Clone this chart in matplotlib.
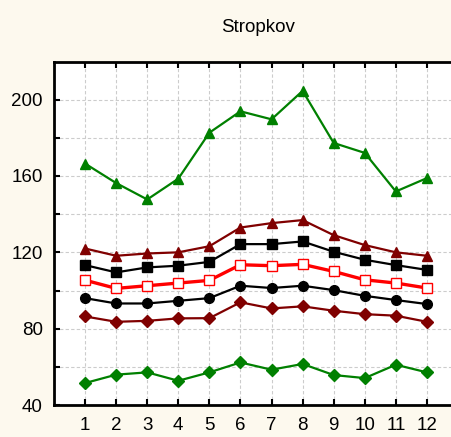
import matplotlib.pyplot as plt
import numpy as np

plt.rcParams['font.family'] = ['Liberation Sans', 'DejaVu Sans']

months = np.arange(1, 13)

# monthly values for each series (top to bottom)
green_tri = [166.5, 156.3, 147.7, 158.6, 182.7, 193.9, 189.7, 204.6, 177.3, 172.1, 151.9, 158.9]
darkred_tri = [122.0, 118.2, 119.4, 120.0, 123.2, 133.0, 135.3, 136.9, 129.0, 123.8, 120.0, 118.2]
black_sq = [113.3, 109.5, 112.1, 113.0, 115.0, 124.3, 124.3, 125.7, 120.3, 116.1, 113.3, 110.8]
red_open = [105.4, 101.1, 102.5, 103.9, 105.3, 113.5, 113.0, 113.7, 110.0, 105.6, 103.9, 101.3]
black_circ = [96.0, 93.2, 93.2, 94.6, 96.0, 102.5, 101.3, 102.5, 100.2, 97.2, 95.0, 92.9]
darkred_dia = [86.4, 83.6, 84.1, 85.4, 85.5, 93.8, 90.6, 91.7, 89.4, 87.6, 86.8, 83.6]
green_dia = [51.5, 55.9, 57.1, 52.7, 57.1, 62.3, 58.5, 61.5, 55.7, 54.1, 61.1, 57.1]

BG = '#fdf9ee'
GREEN = '#008000'
DARKRED = '#800000'

fig = plt.figure(figsize=(4.52, 4.37), dpi=100, facecolor=BG)
ax = fig.add_axes([54 / 452, (437 - 405) / 437, (458 - 54) / 452, (405 - 61.5) / 437])
ax.set_facecolor('white')

ax.plot(months, green_tri, color=GREEN, lw=1.6, marker='^', ms=7.5, zorder=3)
ax.plot(months, darkred_tri, color=DARKRED, lw=1.6, marker='^', ms=7.5, zorder=3)
ax.plot(months, black_sq, color='black', lw=1.6, marker='s', ms=7, zorder=3)
ax.plot(months, red_open, color='#ff0000', lw=2.4, marker='s', ms=7.5,
        mfc='white', mec='#ff0000', mew=1.0, zorder=3)
ax.plot(months, black_circ, color='black', lw=1.6, marker='o', ms=7, zorder=3)
ax.plot(months, darkred_dia, color=DARKRED, lw=1.6, marker='D', ms=6.5, zorder=3)
ax.plot(months, green_dia, color=GREEN, lw=1.6, marker='D', ms=6.5, zorder=3)

ax.set_xlim(0, 13)
ax.set_ylim(40, 220)
ax.set_xticks(months)
ax.set_yticks([40, 80, 120, 160, 200])
ax.set_yticks([60, 100, 140, 180], minor=True)

ax.grid(True, which='both', color='#cccccc', ls=(0, (3, 2)), lw=0.8)
ax.set_axisbelow(True)

ax.tick_params(axis='both', which='both', direction='in', length=4, width=1.5,
               labelsize=13.5, top=True, right=False)
ax.tick_params(axis='x', pad=9)
ax.tick_params(axis='y', pad=8)

for side in ['left', 'bottom', 'top']:
    ax.spines[side].set_linewidth(2)
ax.spines['right'].set_visible(False)

fig.text(258 / 452, 1 - 27 / 437, 'Stropkov', ha='center', va='center', fontsize=13.5)

fig.savefig('out.png', dpi=100, facecolor=BG)
